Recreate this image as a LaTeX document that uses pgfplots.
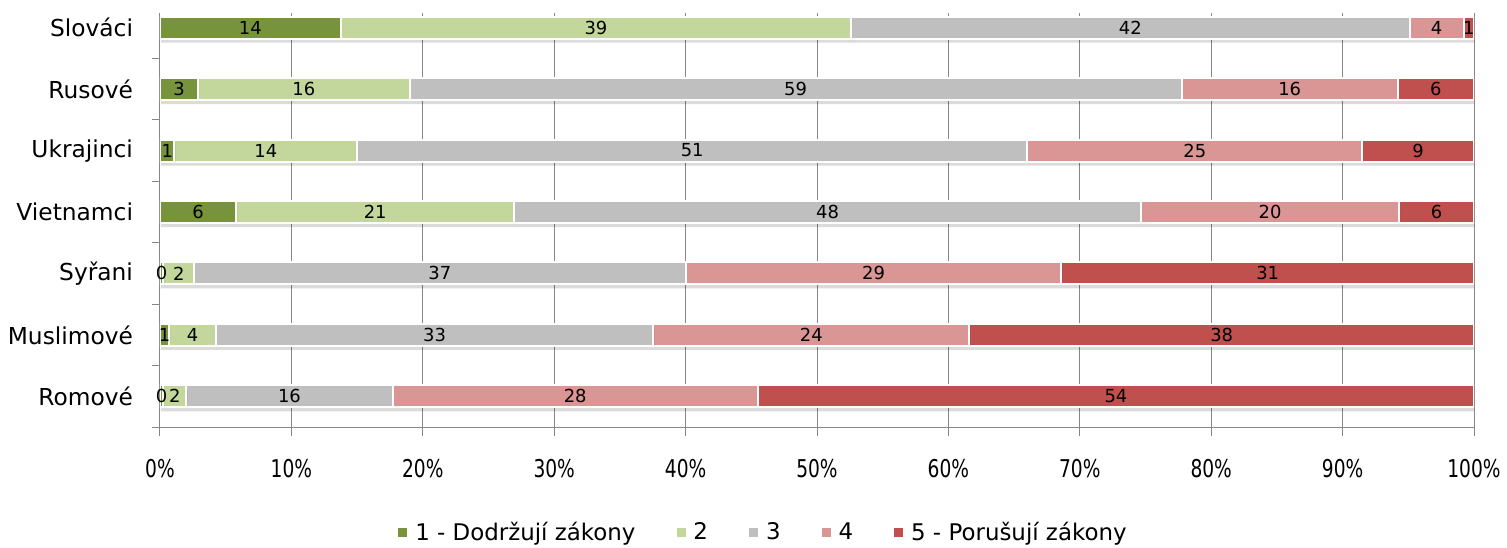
\documentclass[border=0pt]{standalone}
\usepackage{fontspec}
\setmainfont{DejaVu Sans}
\newfontfamily\tickfont[FakeStretch=0.76]{DejaVu Sans}
\usepackage{pgfplots}
\usepackage{pgfplotstable}
\pgfplotsset{compat=1.18}

\definecolor{c1}{HTML}{77933C}
\definecolor{c2}{HTML}{C3D69B}
\definecolor{c3}{HTML}{BFBFBF}
\definecolor{c4}{HTML}{D99694}
\definecolor{c5}{HTML}{C0504D}
\definecolor{gridc}{HTML}{868686}

% shares (% of answers), widths; l* = printed labels
\pgfplotstableread{
y a     b     c     d     e     la lb lc ld le
6 13.75 38.85 42.5  4.1   0.8   14 39 42 4  1
5 2.9   16.1  58.75 16.45 5.8   3  16 59 16 6
4 1.1   13.9  51.0  25.5  8.5   1  14 51 25 9
3 5.8   21.15 47.7  19.65 5.7   6  21 48 20 6
2 0.25  2.35  37.4  28.6  31.4  0  2  37 29 31
1 0.7   3.56  33.28 24.06 38.4  1  4  33 24 38
0 0.25  1.75  15.7  27.8  54.5  0  2  16 28 54
}\data

\pgfplotsset{
  seg/.style={draw=white, line width=1bp,
    preaction={fill=black, fill opacity=0.14, draw=none,
               transform canvas={xshift=0.5bp, yshift=-2bp}},
    nodes near coords, point meta=explicit symbolic,
    nodes near coords style={font=\fontsize{9}{10}\selectfont, black,
      anchor=center}},
  sq/.style={legend image code/.code={\fill[##1] (0bp,-2.25bp) rectangle (4.5bp,2.25bp);}},
}

\begin{document}
\begin{tikzpicture}
\useasboundingbox (-80bp,-60.5bp) rectangle (673.5bp,213.5bp);
\begin{axis}[
  xbar stacked, bar width=11bp,
  scale only axis, width=657bp, height=207bp,
  xmin=0, xmax=100, ymin=-0.5, ymax=6.24,
  axis x line*=bottom, axis y line*=left,
  axis line style={gridc, line width=0.5bp},
  xtick={0,10,...,100},
  xticklabels={0\%,10\%,20\%,30\%,40\%,50\%,60\%,70\%,80\%,90\%,100\%},
  xticklabel style={font=\fontsize{12.3}{13}\tickfont, yshift=-8bp},
  ytick={0,...,6},
  yticklabels={Romové,Muslimové,Syřani,Vietnamci,Ukrajinci,Rusové,Slováci},
  yticklabel style={font=\fontsize{11.7}{12}\selectfont, xshift=-5.5bp},
  minor ytick={-0.5,0.5,...,5.5},
  tick align=outside, major tick length=4.5bp, minor tick length=4bp,
  x tick style={gridc, line width=0.5bp},
  major y tick style={draw=none},
  minor y tick style={gridc, line width=0.5bp},
  xmajorgrids, grid style={gridc, line width=0.5bp},
  legend columns=5,
  legend style={draw=none, fill=none, at={(axis description cs:0.46,-0.256)},
    anchor=center, font=\fontsize{11.5}{12}\selectfont,
    /tikz/every even column/.append style={column sep=18.5bp},
    /tikz/every odd column/.append style={column sep=2bp}},
]
\addplot[seg, fill=c1, forget plot] table[x=a, y=y, meta=la] {\data};
\addplot[seg, fill=c2, forget plot] table[x=b, y=y, meta=lb] {\data};
\addplot[seg, fill=c3, forget plot] table[x=c, y=y, meta=lc] {\data};
\addplot[seg, fill=c4, forget plot] table[x=d, y=y, meta=ld] {\data};
\addplot[seg, fill=c5, forget plot] table[x=e, y=y, meta=le] {\data};
\addlegendimage{sq, fill=c1, draw=none}
\addlegendentry{1 - Dodržují zákony}
\addlegendimage{sq, fill=c2, draw=none}
\addlegendentry{2}
\addlegendimage{sq, fill=c3, draw=none}
\addlegendentry{3}
\addlegendimage{sq, fill=c4, draw=none}
\addlegendentry{4}
\addlegendimage{sq, fill=c5, draw=none}
\addlegendentry{5 - Porušují zákony}
\end{axis}
\end{tikzpicture}
\end{document}
